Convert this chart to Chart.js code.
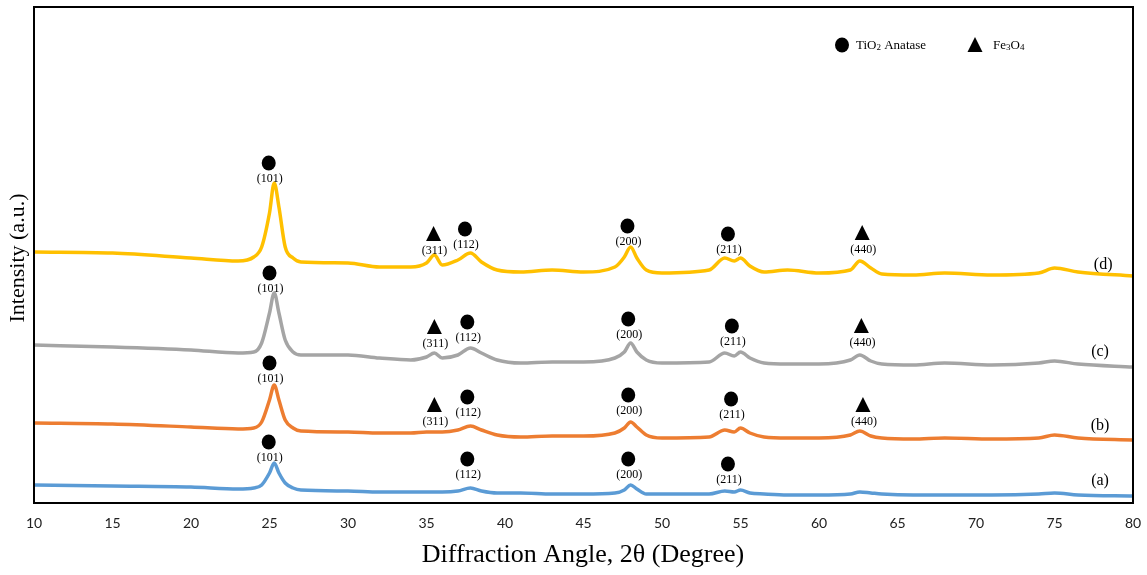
<!DOCTYPE html>
<html>
<head>
<meta charset="utf-8">
<script src="https://cdn.jsdelivr.net/npm/chart.js@4"></script>
<style>
  html, body { margin: 0; padding: 0; background: #fff; }
  #wrap { width: 1147px; height: 575px; }
</style>
</head>
<body>
<div id="wrap"><canvas id="xrdChart"></canvas></div>
<script>
// XRD patterns (intensity in arbitrary units)
const angles = [10, 15, 20, 23, 24, 24.5, 25, 25.3, 25.6, 26, 26.5, 27, 30, 32, 34, 35, 35.5, 36, 37, 37.8,
  38.5, 39.5, 41, 43, 45, 47, 47.6, 48, 48.4, 49, 50, 53, 54, 54.6, 55, 55.6, 56.5, 58, 60, 62,
  62.6, 63.3, 64, 66, 68, 71, 74, 75, 76.5, 80];

const sampleA = [18, 17, 16, 14, 15, 18, 30, 40, 30, 20, 15, 13, 12, 11, 11, 11, 11, 11, 12, 15,
  12, 10, 10, 9, 9, 10, 13, 18, 14, 9, 9, 9, 12, 11, 13, 10, 9, 8, 8, 9,
  11, 10, 9, 8, 8, 8, 9, 10, 8, 7];
const sampleB = [80, 79, 76, 74, 75, 81, 103, 118, 103, 83, 75, 72, 71, 70, 70, 71, 71, 71, 73, 77,
  73, 68, 66, 67, 67, 70, 75, 81, 76, 68, 65, 66, 73, 71, 75, 70, 66, 65, 65, 68,
  72, 67, 65, 64, 65, 64, 65, 68, 65, 63];
const sampleC = [158, 156, 153, 150, 151, 160, 190, 210, 190, 163, 151, 148, 148, 145, 143, 146, 150, 145, 148, 155,
  150, 143, 140, 141, 141, 145, 151, 160, 151, 143, 140, 141, 150, 147, 151, 145, 140, 139, 139, 143,
  148, 142, 139, 138, 140, 138, 140, 142, 139, 136];
const sampleD = [251, 250, 245, 242, 246, 256, 290, 320, 296, 256, 245, 241, 240, 236, 236, 240, 248, 238, 243, 250,
  241, 233, 231, 233, 231, 236, 246, 256, 245, 233, 230, 233, 245, 242, 245, 237, 231, 233, 230, 233,
  242, 235, 229, 228, 230, 228, 230, 235, 231, 227];

const seriesNames = ['(a)', '(b)', '(c)', '(d)'];
const seriesColors = ['#5B9BD5', '#ED7D31', '#A5A5A5', '#FFC000'];
const seriesTagAt = [[77.9, 22], [77.9, 77], [77.9, 151], [78.1, 238]];

// peak markers: [angle, height, shape ('c' anatase / 't' magnetite), hkl]
const peakMarks = [
  [24.95, 340, 'c', '(101)'], [35.45, 269, 't', '(311)'], [37.45, 274, 'c', '(112)'],
  [47.8, 277, 'c', '(200)'], [54.2, 269, 'c', '(211)'], [62.75, 270, 't', '(440)'],
  [25.0, 230, 'c', '(101)'], [35.5, 176, 't', '(311)'], [37.6, 181, 'c', '(112)'],
  [47.85, 184, 'c', '(200)'], [54.45, 177, 'c', '(211)'], [62.7, 177, 't', '(440)'],
  [25.0, 140, 'c', '(101)'], [35.5, 98, 't', '(311)'], [37.6, 106, 'c', '(112)'],
  [47.85, 108, 'c', '(200)'], [54.4, 104, 'c', '(211)'], [62.8, 98, 't', '(440)'],
  [24.95, 61, 'c', '(101)'], [37.6, 44, 'c', '(112)'], [47.85, 44, 'c', '(200)'], [54.2, 39, 'c', '(211)']
];

const allSeries = [sampleA, sampleB, sampleC, sampleD];
const serif = '"Liberation Serif", "Times New Roman", serif';

function drawCircle(ctx, x, y) {
  ctx.beginPath();
  ctx.ellipse(x, y, 7, 7.5, 0, 0, Math.PI * 2);
  ctx.fill();
}
function drawTriangle(ctx, x, y) {
  ctx.beginPath();
  ctx.moveTo(x, y - 8);
  ctx.lineTo(x + 7.5, y + 7);
  ctx.lineTo(x - 7.5, y + 7);
  ctx.closePath();
  ctx.fill();
}
// text with small subscript digits, e.g. TiO2
function drawChem(ctx, parts, x, y) {
  let cx = x;
  parts.forEach(p => {
    ctx.font = p.sub ? '9px ' + serif : '13px ' + serif;
    ctx.fillText(p.t, cx, p.sub ? y + 2 : y);
    cx += ctx.measureText(p.t).width;
  });
}

const decorations = {
  id: 'decorations',
  afterDatasetsDraw(chart) {
    const { ctx, chartArea, scales: { x, y } } = chart;
    ctx.save();
    ctx.fillStyle = '#000';
    ctx.textAlign = 'center';
    ctx.textBaseline = 'middle';
    peakMarks.forEach(([ang, h, shape, hkl]) => {
      const px = x.getPixelForValue(ang);
      const py = y.getPixelForValue(h);
      if (shape === 'c') drawCircle(ctx, px, py); else drawTriangle(ctx, px, py);
      ctx.font = '12px ' + serif;
      ctx.fillText(hkl, px + 1, py + (shape === 'c' ? 16 : 17));
    });
    ctx.font = '16px ' + serif;
    seriesNames.forEach((n, i) => {
      ctx.fillText(n, x.getPixelForValue(seriesTagAt[i][0]), y.getPixelForValue(seriesTagAt[i][1]));
    });

    // key in the top right corner
    ctx.textAlign = 'left';
    drawCircle(ctx, 842, 45);
    drawChem(ctx, [{ t: 'TiO' }, { t: '2', sub: true }, { t: ' Anatase' }], 856, 46);
    drawTriangle(ctx, 975, 45);
    drawChem(ctx, [{ t: 'Fe' }, { t: '3', sub: true }, { t: 'O' }, { t: '4', sub: true }], 993, 46);

    // frame
    ctx.strokeStyle = '#000';
    ctx.lineWidth = 2;
    ctx.strokeRect(chartArea.left, chartArea.top, chartArea.right - chartArea.left, chartArea.bottom - chartArea.top);

    // axis titles
    ctx.textAlign = 'center';
    ctx.font = '26px ' + serif;
    ctx.fillStyle = '#000';
    ctx.fillText('Diffraction Angle, 2θ (Degree)', 583, 555);
    ctx.translate(18, 258);
    ctx.rotate(-Math.PI / 2);
    ctx.font = '22px ' + serif;
    ctx.fillText('Intensity (a.u.)', 0, 0);
    ctx.restore();
  }
};

new Chart(document.getElementById('xrdChart'), {
  type: 'line',
  data: {
    datasets: allSeries.map((vals, i) => ({
      label: seriesNames[i],
      data: angles.map((a, k) => ({ x: a, y: vals[k] })),
      borderColor: seriesColors[i],
      borderWidth: 3.5,
      pointRadius: 0,
      fill: false,
      cubicInterpolationMode: 'monotone'
    }))
  },
  options: {
    responsive: true,
    maintainAspectRatio: false,
    animation: false,
    layout: { padding: { left: 34, right: 14, top: 7, bottom: 0 } },
    plugins: { legend: { display: false }, tooltip: { enabled: false } },
    scales: {
      x: {
        type: 'linear',
        min: 10,
        max: 80,
        grid: { display: false, drawTicks: false },
        border: { display: false },
        ticks: {
          stepSize: 5,
          padding: 12,
          color: '#222',
          font: { family: 'Lato, "Open Sans", sans-serif', size: 14 }
        },
        afterFit(scale) {
          scale.height = 72;
          scale.paddingLeft = 0;
          scale.paddingRight = 0;
        }
      },
      y: {
        display: false,
        min: 0,
        max: 496
      }
    }
  },
  plugins: [decorations]
});
</script>
</body>
</html>
